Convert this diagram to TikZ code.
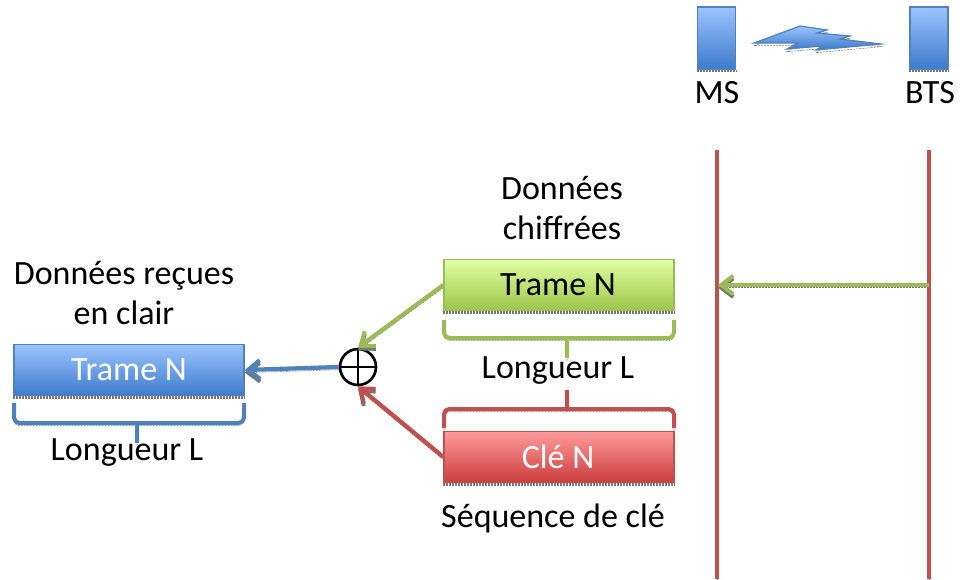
\documentclass[tikz,border=0pt]{standalone}
\usepackage{fontspec}
\setmainfont{Carlito}
\usetikzlibrary{shapes}
\usetikzlibrary{arrows.meta}

\definecolor{bluel}{HTML}{4F81BD}
\definecolor{greenl}{HTML}{9BBB59}
\definecolor{redl}{HTML}{C0504D}
\definecolor{bluetop}{HTML}{9CC3FF}
\definecolor{bluebot}{HTML}{3D7BCB}
\definecolor{greentop}{HTML}{DFFFA2}
\definecolor{greenbot}{HTML}{9CC548}
\definecolor{redtop}{HTML}{FF9B9B}
\definecolor{redbot}{HTML}{CB3D3D}
\definecolor{shade}{HTML}{777777}

\tikzset{
	shadowed/.style={preaction={draw=shade,dash pattern=on 1.5pt off 0.75pt,transform canvas={yshift=-2pt}}},
	frame/.style={rectangle,draw=#1l,line width=1pt,top color=#1top,bottom color=#1bot,minimum width=172.5pt,minimum height=38.25pt,inner sep=0pt},
	station/.style={frame=blue,minimum width=28.5pt,minimum height=46.5pt},
	arrowline/.style={draw=#1l,line width=3.2pt,-{Straight Barb[length=9pt,width=14pt,line width=3pt]},shadowed},
	bracket/.style={draw=#1l,line width=3pt,rounded corners=4pt,shadowed},
	timeline/.style={draw=redl,line width=3pt,shadowed},
	label/.style={inner sep=0pt,font=\fontsize{25.5}{30}\selectfont,align=center}
}

\begin{document}
\begin{tikzpicture}[x=0.75pt,y=-0.75pt]
		\useasboundingbox (0,0) rectangle (966,579);

		% stations
		\node[station] (ms) at (716.5,38) {};
		\node[station] (bts) at (929,38) {};
		\node[label] (mstext) at (717,93) {MS};
		\node[label] (btstext) at (930,93) {BTS};

		% radio link
		\draw[draw=bluel,line width=0.9pt,top color=bluetop,bottom color=bluebot,shadowed]
			(754,43) -- (800,26) -- (827,30) -- (817,33) -- (850,36) -- (840,39) -- (881,44)
			-- (816,50) -- (822,46) -- (787,49) -- (798,43) -- cycle;

		% time lines
		\coordinate (mstop) at (717,150);
		\coordinate (msbot) at (717,579);
		\coordinate (btstop) at (929,150);
		\coordinate (btsbot) at (929,579);
		\draw[timeline] (mstop) -- (msbot);
		\draw[timeline] (btstop) -- (btsbot);
		\coordinate (rxbts) at (929,285);
		\coordinate (rxms) at (718,285);
		\draw[arrowline=green] (rxbts) -- (rxms);

		% boxes
		\node[frame=green] (cipher) at (559,285) {};
		\node[frame=red] (key) at (559,457) {};
		\node[frame=blue] (plain) at (129,370) {};
		\foreach \boxname in {ms,bts,cipher,key,plain}
			\draw[draw=shade,line width=2.2pt,dash pattern=on 1.5pt off 0.75pt] ([yshift=-1pt]\boxname.south west) -- ([yshift=-1pt]\boxname.south east);
		\node[label] (ciphertext) at (558,285) {Trame N};
		\node[label,text=white] (keytext) at (558,457) {Clé N};
		\node[label,text=white] (plaintext) at (129,370) {Trame N};

		% xor
		\node[circle,draw,line width=2pt,minimum size=27pt,inner sep=0pt,
			path picture={\draw[line width=2pt] (path picture bounding box.north) -- (path picture bounding box.south)
				(path picture bounding box.west) -- (path picture bounding box.east);}] (xorop) at (358,367) {};
		\draw[arrowline=green] (cipher.west) -- (xorop.north);
		\draw[arrowline=red] (key.west) -- (xorop.south);
		\draw[arrowline=blue] (xorop.west) -- (plain.east);

		% brackets
		\coordinate (gl) at (444,320); \coordinate (gr) at (674,320);
		\coordinate (gm) at (567,338); \coordinate (gt) at (567,358);
		\draw[bracket=green] (gl) |- (gm) -| (gr) (gm) -- (gt);
		\coordinate (rl) at (444,428); \coordinate (rr) at (674,428);
		\coordinate (rm) at (567,409); \coordinate (rt) at (567,390);
		\draw[bracket=red] (rl) |- (rm) -| (rr) (rm) -- (rt);
		\coordinate (bl) at (14,403); \coordinate (br) at (244,403);
		\coordinate (bm) at (137,423); \coordinate (bt) at (137,443);
		\draw[bracket=blue] (bl) |- (bm) -| (br) (bm) -- (bt);

		% texts
		\node[label] (ciphercap) at (562,208) {Données\\chiffrées};
		\node[label] (plaincap) at (124,293) {Données reçues\\en clair};
		\node[label] (lenright) at (558,371) {Longueur L};
		\node[label] (lenleft) at (127,453) {Longueur L};
		\node[label] (keycap) at (553,518) {Séquence de clé};
\end{tikzpicture}
\end{document}
